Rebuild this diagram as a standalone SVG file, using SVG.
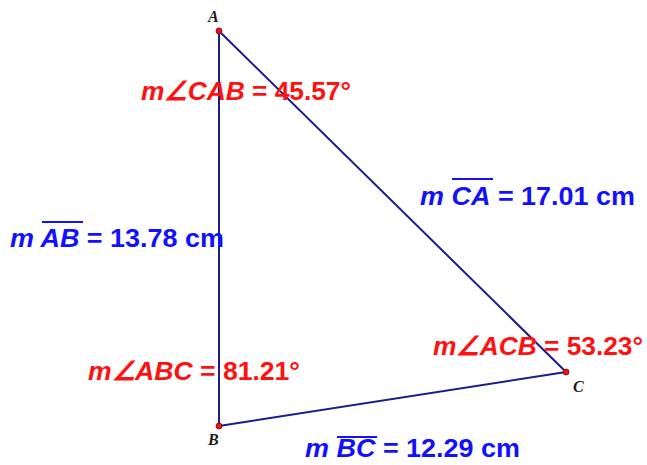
<svg xmlns="http://www.w3.org/2000/svg" width="647" height="465" viewBox="0 0 647 465">
<style>
.edge{stroke:#1c1c8a;stroke-width:2;fill:none;stroke-linecap:round}
.pt{fill:#e8141b;stroke:#7a0000;stroke-width:0.8}
.vl{font-family:"Liberation Serif",serif;font-weight:bold;font-style:italic;font-size:16px;fill:#1a1a1a}
.ang{font-family:"Liberation Sans",Arial,sans-serif;font-weight:bold;font-size:26px;fill:#ff1111}
.len{font-family:"Liberation Sans",Arial,sans-serif;font-weight:bold;font-size:26px;fill:#1111ff}
.it{font-style:italic}
.ov{stroke:#1111ff;stroke-width:2}
</style>
<rect width="647" height="465" fill="#ffffff"/>
<g id="connectors">
<line class="edge" x1="219" y1="31" x2="219" y2="426"/>
<line class="edge" x1="219" y1="426" x2="566" y2="372"/>
<line class="edge" x1="566" y1="372" x2="219" y2="31"/>
</g>
<g id="A"><circle class="pt" cx="219" cy="31" r="3"/><text class="vl" x="208" y="22">A</text></g>
<g id="B"><circle class="pt" cx="219" cy="426" r="3"/><text class="vl" x="208" y="445">B</text></g>
<g id="C"><circle class="pt" cx="566" cy="372" r="3"/><text class="vl" x="573" y="392">C</text></g>
<g id="angleCAB"><text class="ang" x="141" y="100" textLength="210" lengthAdjust="spacingAndGlyphs"><tspan class="it">m∠CAB</tspan> = 45.57°</text></g>
<g id="angleABC"><text class="ang" x="88" y="380" textLength="212" lengthAdjust="spacingAndGlyphs"><tspan class="it">m∠ABC</tspan> = 81.21°</text></g>
<g id="angleACB"><text class="ang" x="433" y="355" textLength="210" lengthAdjust="spacingAndGlyphs"><tspan class="it">m∠ACB</tspan> = 53.23°</text></g>
<g id="lenAB"><text class="len" x="10" y="247" textLength="214" lengthAdjust="spacingAndGlyphs"><tspan class="it">m AB</tspan> = 13.78 cm</text><line class="ov" x1="42" y1="222" x2="83" y2="222"/></g>
<g id="lenCA"><text class="len" x="420" y="205" textLength="215" lengthAdjust="spacingAndGlyphs"><tspan class="it">m CA</tspan> = 17.01 cm</text><line class="ov" x1="452" y1="179" x2="493" y2="179"/></g>
<g id="lenBC"><text class="len" x="305" y="457" textLength="215" lengthAdjust="spacingAndGlyphs"><tspan class="it">m BC</tspan> = 12.29 cm</text><line class="ov" x1="337" y1="437" x2="377" y2="437"/></g>
</svg>
